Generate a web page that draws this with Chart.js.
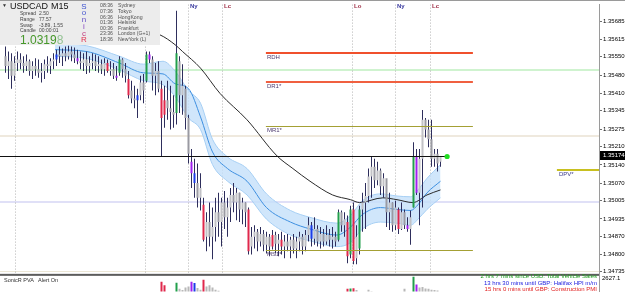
<!DOCTYPE html>
<html>
<head>
<meta charset="utf-8">
<script src="https://cdn.jsdelivr.net/npm/chart.js@4.4.1/dist/chart.umd.min.js"></script>
<style>
  html, body { margin: 0; padding: 0; background: #fff; }
  canvas { display: block; }
</style>
</head>
<body>
<canvas id="chart" width="625" height="296"></canvas>
<script>
"use strict";
// USDCAD M15 candles, one entry per bar
const highs = [
  1.35589, 1.35570, 1.35563, 1.35552, 1.35570, 1.35563, 1.35552, 1.35559, 1.35540, 1.35533,
  1.35544, 1.35540, 1.35526, 1.35540, 1.35552, 1.35544, 1.35563, 1.35577, 1.35589, 1.35581,
  1.35589, 1.35592, 1.35589, 1.35585, 1.35577, 1.35570, 1.35563, 1.35570, 1.35552, 1.35563,
  1.35559, 1.35552, 1.35540, 1.35544, 1.35540, 1.35533, 1.35526, 1.35515, 1.35552, 1.35544,
  1.35526, 1.35496, 1.35459, 1.35440, 1.35429, 1.35478, 1.35485, 1.35570, 1.35570, 1.35552,
  1.35526, 1.35533, 1.35459, 1.35440, 1.35459, 1.35440, 1.35404, 1.35725, 1.35552, 1.35522,
  1.35440, 1.35330, 1.35200, 1.35163, 1.35145, 1.35108, 1.35015, 1.34960, 1.34997, 1.34978,
  1.35015, 1.35034, 1.35015, 1.35041, 1.35015, 1.35052, 1.35071, 1.35052, 1.35034, 1.35015,
  1.34997, 1.34978, 1.34904, 1.34911, 1.34897, 1.34904, 1.34893, 1.34886, 1.34878, 1.34893,
  1.34886, 1.34878, 1.34886, 1.34874, 1.34878, 1.34867, 1.34878, 1.34867, 1.34886, 1.34878,
  1.34893, 1.34941, 1.34923, 1.34941, 1.34911, 1.34904, 1.34897, 1.34911, 1.34897, 1.34904,
  1.34886, 1.34971, 1.34967, 1.34960, 1.34948, 1.34985, 1.34997, 1.34911, 1.34985, 1.35034,
  1.35071, 1.35126, 1.35174, 1.35163, 1.35152, 1.35126, 1.35108, 1.35071, 1.35034, 1.34997,
  1.35004, 1.34978, 1.34997, 1.34971, 1.34941, 1.34967, 1.35226, 1.35200, 1.35200, 1.35348,
  1.35318, 1.35311, 1.35311, 1.35200, 1.35200, 1.35174
];
const lows = [
  1.35489, 1.35466, 1.35429, 1.35459, 1.35496, 1.35503, 1.35489, 1.35496, 1.35478, 1.35466,
  1.35478, 1.35470, 1.35452, 1.35466, 1.35489, 1.35485, 1.35503, 1.35515, 1.35526, 1.35515,
  1.35533, 1.35540, 1.35533, 1.35526, 1.35522, 1.35503, 1.35496, 1.35485, 1.35489, 1.35503,
  1.35496, 1.35489, 1.35485, 1.35478, 1.35489, 1.35478, 1.35466, 1.35459, 1.35478, 1.35470,
  1.35452, 1.35392, 1.35374, 1.35355, 1.35318, 1.35385, 1.35374, 1.35452, 1.35526, 1.35422,
  1.35404, 1.35415, 1.35170, 1.35281, 1.35311, 1.35274, 1.35281, 1.35293, 1.35337, 1.35330,
  1.35274, 1.35145, 1.35052, 1.35015, 1.34978, 1.34967, 1.34849, 1.34812, 1.34830, 1.34782,
  1.34849, 1.34867, 1.34830, 1.34897, 1.34867, 1.34923, 1.34960, 1.34930, 1.34923, 1.34915,
  1.34904, 1.34800, 1.34800, 1.34823, 1.34812, 1.34830, 1.34812, 1.34804, 1.34793, 1.34819,
  1.34804, 1.34793, 1.34800, 1.34786, 1.34812, 1.34786, 1.34804, 1.34786, 1.34812, 1.34800,
  1.34812, 1.34849, 1.34830, 1.34837, 1.34830, 1.34823, 1.34830, 1.34837, 1.34830, 1.34823,
  1.34830, 1.34849, 1.34886, 1.34867, 1.34767, 1.34786, 1.34763, 1.34763, 1.34800, 1.34886,
  1.34897, 1.34997, 1.35015, 1.35052, 1.35063, 1.35026, 1.35015, 1.34904, 1.34893, 1.34886,
  1.34893, 1.34878, 1.34893, 1.34897, 1.34886, 1.34837, 1.34978, 1.35026, 1.34911, 1.34978,
  1.35244, 1.35207, 1.35133, 1.35133, 1.35115, 1.35133
];
const opens = [
  1.35552, 1.35515, 1.35533, 1.35478, 1.35526, 1.35540, 1.35526, 1.35515, 1.35533, 1.35496,
  1.35515, 1.35503, 1.35489, 1.35496, 1.35522, 1.35515, 1.35533, 1.35540, 1.35559, 1.35552,
  1.35563, 1.35552, 1.35570, 1.35559, 1.35544, 1.35533, 1.35526, 1.35540, 1.35515, 1.35526,
  1.35533, 1.35515, 1.35522, 1.35503, 1.35526, 1.35496, 1.35503, 1.35478, 1.35489, 1.35540,
  1.35503, 1.35466, 1.35422, 1.35392, 1.35385, 1.35404, 1.35452, 1.35459, 1.35559, 1.35540,
  1.35478, 1.35496, 1.35429, 1.35330, 1.35385, 1.35355, 1.35341, 1.35337, 1.35533, 1.35404,
  1.35429, 1.35318, 1.35152, 1.35108, 1.35071, 1.35015, 1.34989, 1.34867, 1.34923, 1.34867,
  1.34904, 1.34960, 1.34923, 1.34997, 1.34941, 1.34978, 1.35026, 1.34997, 1.35034, 1.34971,
  1.34997, 1.34971, 1.34830, 1.34867, 1.34886, 1.34849, 1.34878, 1.34837, 1.34867, 1.34830,
  1.34874, 1.34841, 1.34856, 1.34830, 1.34849, 1.34830, 1.34856, 1.34823, 1.34849, 1.34867,
  1.34830, 1.34874, 1.34911, 1.34860, 1.34897, 1.34849, 1.34878, 1.34849, 1.34874, 1.34856,
  1.34867, 1.34856, 1.34960, 1.34911, 1.34923, 1.34800, 1.34971, 1.34786, 1.34823, 1.34971,
  1.34997, 1.35022, 1.35096, 1.35133, 1.35082, 1.35119, 1.35059, 1.35089, 1.34960, 1.34997,
  1.34911, 1.34971, 1.34897, 1.34960, 1.34911, 1.34897, 1.34978, 1.35174, 1.35034, 1.35163,
  1.35311, 1.35274, 1.35237, 1.35163, 1.35182, 1.35152
];
const closes = [
  1.35515, 1.35533, 1.35478, 1.35526, 1.35540, 1.35526, 1.35515, 1.35533, 1.35496, 1.35515,
  1.35503, 1.35489, 1.35496, 1.35522, 1.35515, 1.35533, 1.35540, 1.35559, 1.35552, 1.35563,
  1.35552, 1.35570, 1.35559, 1.35544, 1.35533, 1.35526, 1.35540, 1.35515, 1.35526, 1.35533,
  1.35515, 1.35522, 1.35503, 1.35526, 1.35496, 1.35503, 1.35478, 1.35470, 1.35540, 1.35503,
  1.35478, 1.35404, 1.35392, 1.35385, 1.35404, 1.35452, 1.35422, 1.35559, 1.35540, 1.35478,
  1.35496, 1.35429, 1.35318, 1.35385, 1.35355, 1.35341, 1.35330, 1.35563, 1.35404, 1.35440,
  1.35318, 1.35182, 1.35108, 1.35071, 1.35015, 1.35052, 1.34856, 1.34923, 1.34867, 1.34904,
  1.34960, 1.34923, 1.34997, 1.34941, 1.34978, 1.35026, 1.34997, 1.35034, 1.34971, 1.34997,
  1.34960, 1.34812, 1.34867, 1.34886, 1.34849, 1.34878, 1.34837, 1.34867, 1.34830, 1.34874,
  1.34841, 1.34856, 1.34830, 1.34849, 1.34830, 1.34856, 1.34823, 1.34849, 1.34867, 1.34830,
  1.34874, 1.34911, 1.34860, 1.34897, 1.34849, 1.34878, 1.34849, 1.34874, 1.34856, 1.34867,
  1.34849, 1.34960, 1.34911, 1.34934, 1.34793, 1.34971, 1.34775, 1.34867, 1.34971, 1.34997,
  1.35022, 1.35096, 1.35133, 1.35082, 1.35119, 1.35059, 1.35089, 1.34960, 1.34997, 1.34911,
  1.34978, 1.34897, 1.34960, 1.34911, 1.34897, 1.34941, 1.35174, 1.35034, 1.35163, 1.35311,
  1.35274, 1.35237, 1.35163, 1.35182, 1.35145, 1.35174
];
const volumes = [
  1320, 1180, 1450, 1260, 980, 870, 1010, 940, 1120, 1060,
  990, 1080, 1230, 1150, 920, 880, 1040, 1380, 1100, 960,
  900, 1010, 870, 930, 1290, 980, 1050, 1160, 1000, 940,
  890, 960, 1020, 1110, 1420, 1050, 1130, 1390, 1560, 1240,
  1300, 1680, 1450, 1380, 1620, 1510, 1470, 1850, 1700, 1600,
  1550, 1640, 2364, 2200, 1820, 1760, 1690, 2320, 2050, 1990,
  2100, 2150, 2364, 2300, 2080, 2000, 2450, 2150, 2200, 2100,
  2000, 1950, 1880, 1800, 1760, 1700, 1650, 1720, 1600, 1580,
  1540, 1890, 1500, 1420, 1380, 1350, 1300, 1280, 1320, 1450,
  1260, 1220, 1400, 1250, 1180, 1210, 1160, 1200, 1140, 1190,
  1230, 1350, 1480, 1300, 1260, 1210, 1180, 1220, 1170, 1240,
  1200, 1780, 1560, 1500, 2040, 2058, 2070, 1990, 1900, 1850,
  1880, 2000, 1920, 1750, 1700, 1680, 1640, 1720, 1660, 1600,
  1580, 1860, 1620, 2040, 1810, 1700, 2583, 2233, 2100, 2120,
  2060, 2050, 2000, 1990, 1970, 1500
];
// SonicR PVA bar classes (bar indices)
const pvaGreen = [38, 47, 57, 111, 115, 118, 136];
const pvaRed = [34, 41, 52, 53, 66, 81, 89, 92, 114, 116, 131];
const pvaBlue = [17, 44, 63, 102];
const pvaPurple = [24, 37, 48, 62, 134, 137];

// Dragon band (EMA34 high/low/close) and EMA89, sampled at bar positions
const dragonBars = [16.5, 27, 38, 46, 52.5, 56.5, 61, 65, 69, 74, 80.5, 87, 95, 101.5, 110.5, 115, 119, 125, 130.5, 135, 137.5, 140.5, 145];
const dragonHigh = [1.35600, 1.35592, 1.35552, 1.35522, 1.35533, 1.35496, 1.35422, 1.35374, 1.35237, 1.35170, 1.35126, 1.35030, 1.34967, 1.34941, 1.34919, 1.34948, 1.35004, 1.35030, 1.35022, 1.35019, 1.35045, 1.35089, 1.35141];
const dragonLow = [1.35552, 1.35544, 1.35500, 1.35459, 1.35444, 1.35400, 1.35318, 1.35274, 1.35141, 1.35078, 1.35026, 1.34934, 1.34874, 1.34852, 1.34830, 1.34845, 1.34897, 1.34923, 1.34919, 1.34911, 1.34934, 1.34971, 1.35015];
const dragonMid = [1.35577, 1.35570, 1.35526, 1.35489, 1.35485, 1.35448, 1.35429, 1.35322, 1.35189, 1.35126, 1.35078, 1.34978, 1.34923, 1.34897, 1.34874, 1.34904, 1.34952, 1.34978, 1.34971, 1.34967, 1.34989, 1.35034, 1.35078];
const trendBars = [41.5, 51.5, 56.5, 59, 65, 71.5, 80.5, 90.5, 95.8, 101.5, 109, 115, 118, 125.8, 130.5, 135.8, 140.5, 145];
const trendEma = [1.35659, 1.35633, 1.35596, 1.35570, 1.35507, 1.35411, 1.35311, 1.35174, 1.35126, 1.35078, 1.35026, 1.35008, 1.34997, 1.35015, 1.35008, 1.34997, 1.35026, 1.35045];

const priceTicks = [1.35685, 1.35615, 1.35550, 1.35480, 1.35410, 1.35345, 1.35275, 1.35210, 1.35140, 1.35070, 1.35005, 1.34935, 1.34870, 1.34800, 1.34735];
const lastPrice = 1.35174;
const lastBarPos = 147.2;

const pivotNames = ["RDH", "DR1*", "MR1*", "MS1*"];
const pivotLevels = [1.35564, 1.35456, 1.35287, 1.34818];
const pivotFrom = 86.8;
const pivotTo = 155.8;
const dailyPivotName = "DPV*";
const dailyPivotLevel = 1.35120;
const dailyPivotFrom = 183.8;
const faintLevels = [1.35500, 1.35249, 1.34998, 1.34736];

const sessionBars = [3.2, 46.5, 60.8, 72.2, 115.5, 129.8, 141.5];
const sessionNames = ["", "", "Ny", "Lc", "Lo", "Ny", "Lc"];

const infoLabels = ["Spread", "Range", "Swap", "Candle"];
const infoValues = ["2.50", "77.57", "-3.89, 1.55", "00:00:01"];
const clockTimes = ["08:36", "07:36", "06:36", "01:36", "00:36", "23:36", "18:36"];
const clockCities = ["Sydney", "Tokyo", "HongKong", "Helsinki", "Frankfurt", "London (G+1)", "NewYork (L)"];
const sonicLetters = ["S", "o", "n", "i", "c", "R"];
const newsLines = [
  "2 hrs 7 mins since USD: Total Vehicle Sales",
  "13 hrs 30 mins until GBP: Halifax HPI m/m",
  "15 hrs 0 mins until GBP: Construction PMI"
];
const volumeTopLabel = "2627.1";

const FONT = '"Liberation Sans", Arial, sans-serif';
const wickColor = "#2e2e5c";
const pvaColors = { g: "#22a04c", r: "#e0284c", b: "#1c3ce8", p: "#a020f0" };

function pvaClass(i) {
  if (pvaGreen.includes(i)) return "g";
  if (pvaRed.includes(i)) return "r";
  if (pvaBlue.includes(i)) return "b";
  if (pvaPurple.includes(i)) return "p";
  return "n";
}
function bodyColor(i) {
  const c = pvaClass(i);
  if (c !== "n") return pvaColors[c];
  return closes[i] >= opens[i] ? "#c2c2c6" : "#9a9aa2";
}
function volumeColor(i) {
  const c = pvaClass(i);
  return c === "n" ? "#b8b8b8" : pvaColors[c];
}

function hline(ctx, x1, x2, py, color, width) {
  const yy = width % 2 ? Math.round(py) + 0.5 : Math.round(py);
  ctx.strokeStyle = color;
  ctx.lineWidth = width;
  ctx.beginPath();
  ctx.moveTo(x1, yy);
  ctx.lineTo(x2, yy);
  ctx.stroke();
}

const terminalDecor = {
  id: "terminalDecor",
  beforeDatasetsDraw(chart) {
    const { ctx, chartArea: area, scales: { x, y } } = chart;
    const mainBottom = y.bottom;
    ctx.save();
    const faintColors = ["#cff3cf", "#efe9de", "#e0e0f7", "#ece7d6"];
    faintLevels.forEach((lv, k) => {
      hline(ctx, area.left, area.right, y.getPixelForValue(lv), faintColors[k], k === 3 ? 1 : 2);
    });
    ctx.setLineDash([1, 2]);
    ctx.strokeStyle = "#b4b4b4";
    ctx.lineWidth = 1;
    sessionBars.forEach((b) => {
      const px = Math.round(x.getPixelForValue(b)) + 0.5;
      ctx.beginPath();
      ctx.moveTo(px, area.top);
      ctx.lineTo(px, mainBottom);
      ctx.stroke();
    });
    ctx.restore();
  },
  afterDraw(chart) {
    const { ctx, chartArea: area, scales: { x, y } } = chart;
    ctx.save();
    ctx.textBaseline = "middle";

    // session labels
    ctx.font = "bold 6px " + FONT;
    sessionBars.forEach((b, k) => {
      const name = sessionNames[k];
      if (!name) return;
      ctx.fillStyle = name === "Ny" ? "#3c3ca0" : "#a03048";
      ctx.fillText(name, Math.round(x.getPixelForValue(b)) + 2, 6);
    });

    // pivot lines
    const pivotColors = ["#f0502c", "#f06040", "#a4a034", "#a4a034"];
    const pivotWidths = [2, 2, 1, 1];
    ctx.font = "6px " + FONT;
    pivotLevels.forEach((lv, k) => {
      const py = y.getPixelForValue(lv);
      const x1 = x.getPixelForValue(pivotFrom);
      hline(ctx, x1, x.getPixelForValue(pivotTo), py, pivotColors[k], pivotWidths[k]);
      ctx.fillStyle = "#4e3a6e";
      ctx.fillText(pivotNames[k], x1 + 1, py + 4.5);
    });
    const dpy = y.getPixelForValue(dailyPivotLevel);
    const dx1 = x.getPixelForValue(dailyPivotFrom);
    hline(ctx, dx1, area.right, dpy, "#c8c020", 2);
    ctx.fillStyle = "#3a3a8a";
    ctx.fillText(dailyPivotName, dx1 + 2, dpy + 4.5);

    // last price line and marker
    const lpy = y.getPixelForValue(lastPrice);
    const lpx = x.getPixelForValue(lastBarPos);
    hline(ctx, area.left, lpx, lpy, "#111111", 1);
    ctx.fillStyle = "#22dd22";
    ctx.beginPath();
    ctx.arc(lpx, Math.round(lpy) + 0.5, 2.6, 0, Math.PI * 2);
    ctx.fill();

    // info panel (top left)
    ctx.fillStyle = "#ececec";
    ctx.fillRect(0, 0, 160, 45);
    ctx.fillStyle = "#333";
    ctx.font = "5px " + FONT;
    ctx.fillText("\u25BC", 2, 6);
    ctx.fillStyle = "#111";
    ctx.font = "9px " + FONT;
    ctx.fillText("USDCAD", 10, 7);
    ctx.fillText("M15", 51, 7);
    ctx.font = "5px " + FONT;
    ctx.fillStyle = "#444";
    infoLabels.forEach((lab, k) => {
      const ry = 14 + k * 5.6;
      ctx.fillText(lab, 20, ry);
      ctx.fillText(infoValues[k], 39, ry);
    });
    ctx.font = "12px " + FONT;
    ctx.fillStyle = "#46982a";
    ctx.fillText("1.0319", 20, 41);
    const w = ctx.measureText("1.0319").width;
    ctx.fillStyle = "#93c293";
    ctx.fillText("8", 20 + w, 41);
    const sonicColors = ["#3a50d0", "#4a5ad0", "#6450c8", "#8a48c0", "#c04080", "#e03050"];
    ctx.font = "8px " + FONT;
    ctx.textAlign = "center";
    sonicLetters.forEach((ch, k) => {
      ctx.fillStyle = sonicColors[k];
      ctx.fillText(ch, 84, 6.5 + k * 6.7);
    });
    ctx.textAlign = "left";
    ctx.font = "5.2px " + FONT;
    ctx.fillStyle = "#505050";
    clockTimes.forEach((t, k) => {
      const ry = 6 + k * 5.6;
      ctx.fillText(t, 100, ry);
      ctx.fillText(clockCities[k], 118, ry);
    });

    // indicator window separator and texts
    const sepY = y.bottom;
    ctx.fillStyle = "#5c5c5c";
    ctx.fillRect(0, sepY, area.right, 2);
    ctx.font = "5.5px " + FONT;
    ctx.fillStyle = "#303030";
    ctx.fillText("SonicR PVA", 4, sepY + 7);
    ctx.fillText("Alert On", 38, sepY + 7);
    const newsColors = ["#1e9e1e", "#2020e0", "#e02020"];
    ctx.font = "6px " + FONT;
    ctx.textAlign = "right";
    newsLines.forEach((line, k) => {
      ctx.fillStyle = newsColors[k];
      ctx.fillText(line, area.right - 2, sepY + 2.5 + k * 6.6);
    });
    ctx.textAlign = "left";

    // right axis extras
    ctx.fillStyle = "#000";
    ctx.fillText(volumeTopLabel, area.right + 3, sepY + 5);
    ctx.fillStyle = "#000";
    ctx.fillRect(area.right + 1, Math.round(lpy) - 5, 26, 9);
    ctx.fillStyle = "#fff";
    ctx.fillText(lastPrice.toFixed(5), area.right + 4, Math.round(lpy) - 0.5);

    // window top edge
    ctx.fillStyle = "#9a9a9a";
    ctx.fillRect(0, 0, 625, 1);
    ctx.restore();
  }
};

const barIndex = highs.map((_, i) => i);
const AXIS_W = 26;

new Chart(document.getElementById("chart"), {
  type: "bar",
  data: {
    datasets: [
      {
        type: "line",
        data: dragonBars.map((b, k) => ({ x: b, y: dragonHigh[k] })),
        borderColor: "#a6cff4",
        borderWidth: 1,
        backgroundColor: "rgba(196,224,250,0.8)",
        fill: "+1",
        pointRadius: 0,
        cubicInterpolationMode: "monotone",
        order: 20
      },
      {
        type: "line",
        data: dragonBars.map((b, k) => ({ x: b, y: dragonLow[k] })),
        borderColor: "#a6cff4",
        borderWidth: 1,
        pointRadius: 0,
        cubicInterpolationMode: "monotone",
        order: 19
      },
      {
        type: "line",
        data: dragonBars.map((b, k) => ({ x: b, y: dragonMid[k] })),
        borderColor: "#3d8fe0",
        borderWidth: 1,
        pointRadius: 0,
        cubicInterpolationMode: "monotone",
        order: 15
      },
      {
        type: "line",
        data: trendBars.map((b, k) => ({ x: b, y: trendEma[k] })),
        borderColor: "#2a2a2a",
        borderWidth: 1,
        pointRadius: 0,
        cubicInterpolationMode: "monotone",
        order: 14
      },
      {
        data: barIndex.map((i) => ({ x: i, y: [lows[i], highs[i]] })),
        backgroundColor: wickColor,
        barThickness: 1,
        grouped: false,
        inflateAmount: 0,
        order: 2
      },
      {
        data: barIndex.map((i) => ({ x: i, y: [opens[i], closes[i]] })),
        backgroundColor: barIndex.map(bodyColor),
        barThickness: 2,
        minBarLength: 1,
        grouped: false,
        inflateAmount: 0,
        order: 1
      },
      {
        yAxisID: "yVol",
        data: barIndex.map((i) => ({ x: i, y: volumes[i] })),
        backgroundColor: barIndex.map(volumeColor),
        barThickness: 2,
        grouped: false,
        inflateAmount: 0,
        order: 3
      }
    ]
  },
  options: {
    responsive: false,
    animation: false,
    devicePixelRatio: 1,
    layout: { padding: { top: 2, left: 0, right: 0, bottom: 0 } },
    plugins: { legend: { display: false }, tooltip: { enabled: false } },
    scales: {
      x: { type: "linear", min: -5.5 / 3, max: (599 - 5.5) / 3, offset: false, display: false },
      y: {
        type: "linear",
        position: "right",
        stack: "terminal",
        stackWeight: 276,
        min: 1.347267,
        max: 1.357479,
        afterBuildTicks: (scale) => { scale.ticks = priceTicks.map((v) => ({ value: v })); },
        afterFit: (scale) => { scale.width = AXIS_W; },
        ticks: {
          autoSkip: false,
          maxRotation: 0,
          padding: 1,
          color: "#000",
          font: { family: "Liberation Sans", size: 6 },
          callback: (v) => Number(v).toFixed(5)
        },
        grid: { drawOnChartArea: false, tickLength: 3, color: "#707070" },
        border: { display: true, color: "#9a9a9a", width: 1 }
      },
      yVol: {
        type: "linear",
        position: "right",
        stack: "terminal",
        stackWeight: 18,
        min: 1926,
        max: 2714.7,
        afterFit: (scale) => { scale.width = AXIS_W; },
        ticks: { display: false },
        grid: { display: false, drawTicks: false },
        border: { display: true, color: "#9a9a9a", width: 1 }
      }
    }
  },
  plugins: [terminalDecor]
});
</script>
</body>
</html>
